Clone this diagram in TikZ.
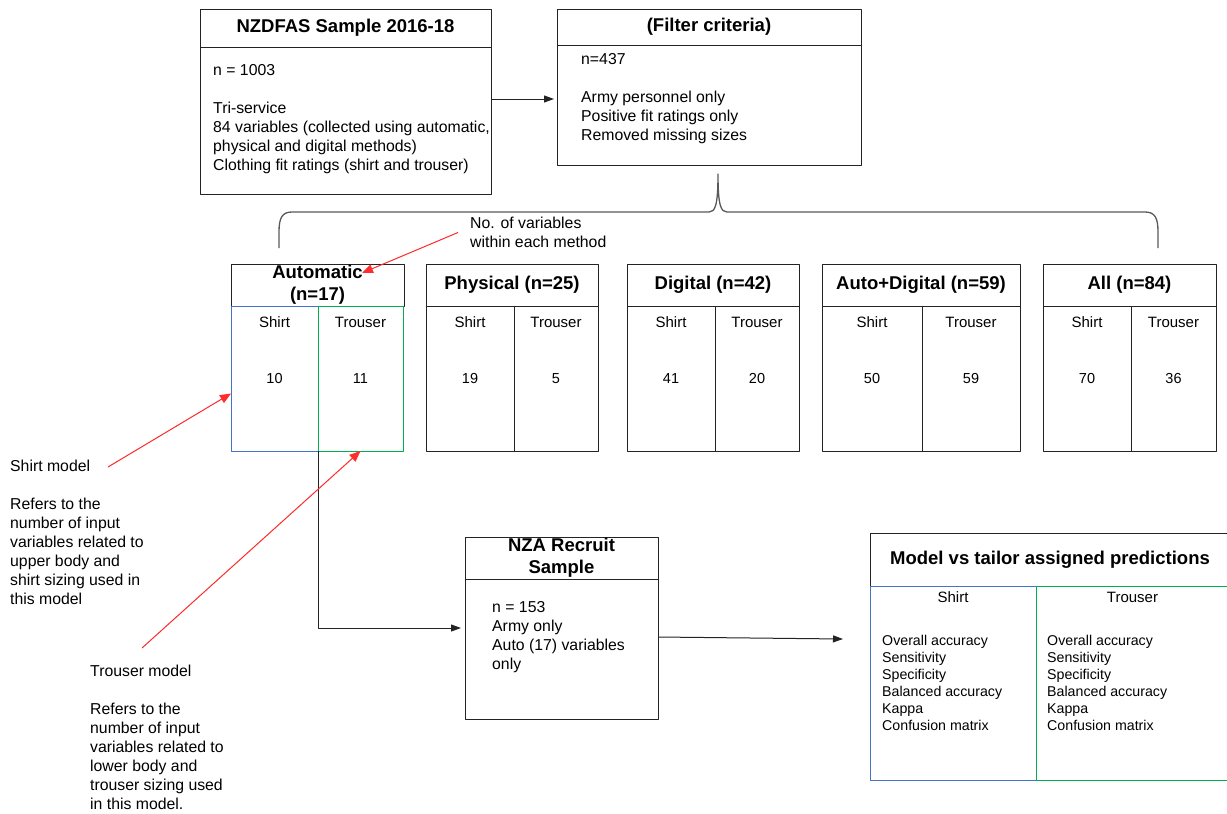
\documentclass[tikz,border=0pt]{standalone}
\usepackage{fontspec}
\setmainfont{Liberation Sans}
\usetikzlibrary{positioning,arrows.meta}
\definecolor{shirtblue}{RGB}{68,114,196}
\definecolor{trousergreen}{RGB}{0,176,80}
\definecolor{notered}{RGB}{255,45,45}
\definecolor{boxline}{RGB}{35,35,35}
\begin{document}
\begin{tikzpicture}[x=1pt,y=-1pt,>={Triangle[length=10pt,width=7pt]},line join=round,
	hdr/.style={draw=boxline,line width=1pt,inner sep=0pt,outer sep=0pt,align=center,font=\fontsize{18.5}{22}\selectfont\bfseries},
	bodybox/.style={draw=boxline,line width=1pt,inner sep=0pt,outer sep=0pt,anchor=north west},
	txt/.style={inner sep=0pt,anchor=north west,align=left,font=\fontsize{15.8}{19}\selectfont},
	cell/.style={draw=boxline,line width=1pt,inner sep=0pt,outer sep=0pt,anchor=north west,minimum height=145pt,font=\fontsize{14.5}{17}\selectfont,
		label={[anchor=center,yshift=-16pt,font=\fontsize{15}{17}\selectfont]north:#1}},
	rescell/.style={draw=boxline,line width=1pt,inner sep=0pt,outer sep=0pt,anchor=north west,minimum height=194pt,
		label={[anchor=center,yshift=-11pt,font=\fontsize{15}{17}\selectfont]north:#1}},
	conn/.style={->,draw=boxline,line width=1pt},
	note/.style={-{Triangle[length=11pt,width=9pt]},draw=notered,fill=notered,line width=1pt}]
	\useasboundingbox (0,0) rectangle (1227,814);
	\clip (0,0) rectangle (1227,814);
	\node[hdr,minimum width=291pt,minimum height=38pt,anchor=north west] (nzH) at (200,9) {NZDFAS Sample 2016-18};
	\node[bodybox,minimum width=291pt,minimum height=147pt] (nzB) at (nzH.south west) {};
	\node[txt,below right=17pt and 13pt of nzB.north west] (nzT) {n = 1003\\[19pt]Tri-service\\84 variables (collected using automatic,\\physical and digital methods)\\Clothing fit ratings (shirt and trouser)};
	\node[hdr,minimum width=304pt,minimum height=36pt,anchor=north west] (fcH) at (557,9) {(Filter criteria)};
	\node[bodybox,minimum width=304pt,minimum height=120pt] (fcB) at (fcH.south west) {};
	\node[txt,below right=8pt and 24pt of fcB.north west] (fcT) {n=437\\[19pt]Army personnel only\\Positive fit ratings only\\Removed missing sizes};
	\coordinate (a1) at (0,99);
	\draw[conn,shorten >=3pt] (nzB.east |- a1) -- (fcB.west |- a1);
	\draw[draw=black!65,line width=1.3pt] (279,248) -- (279,232) .. controls (279,218) and (282,212) .. (292,212) -- (709,212)
		.. controls (715,212) and (718,206) .. (718,174) .. controls (718,206) and (721,212) .. (727,212) -- (1145,212)
		.. controls (1155,212) and (1158,218) .. (1158,232) -- (1158,248);
	\node[txt] (varT) at (470,217) {No. of variables\\within each method};
	\node[hdr,minimum width=173pt,minimum height=42pt,anchor=north west] (autoH) at (231,264) {Automatic\\(n=17)};
	\node[cell=Shirt,draw=shirtblue,minimum width=87pt] (autoS) at (autoH.south west) {10};
	\node[cell=Trouser,draw=trousergreen,minimum width=85pt] (autoT) at (autoS.north east) {11};
	\node[hdr,minimum width=172pt,minimum height=42pt,right=22pt of autoH] (physH) {Physical (n=25)};
	\node[cell=Shirt,minimum width=88pt] (physS) at (physH.south west) {19};
	\node[cell=Trouser,minimum width=84pt] (physT) at (physS.north east) {5};
	\node[hdr,minimum width=172pt,minimum height=42pt,right=29pt of physH] (digH) {Digital (n=42)};
	\node[cell=Shirt,minimum width=88pt] (digS) at (digH.south west) {41};
	\node[cell=Trouser,minimum width=84pt] (digT) at (digS.north east) {20};
	\node[hdr,minimum width=198pt,minimum height=42pt,right=23pt of digH] (adH) {Auto+Digital (n=59)};
	\node[cell=Shirt,minimum width=100pt] (adS) at (adH.south west) {50};
	\node[cell=Trouser,minimum width=98pt] (adT) at (adS.north east) {59};
	\node[hdr,minimum width=173pt,minimum height=42pt,right=23pt of adH] (allH) {All (n=84)};
	\node[cell=Shirt,minimum width=88pt] (allS) at (allH.south west) {70};
	\node[cell=Trouser,minimum width=85pt] (allT) at (allS.north east) {36};
	\node[hdr,minimum width=193pt,minimum height=42pt,anchor=north west] (nzaH) at (465,537) {NZA Recruit\\Sample};
	\node[bodybox,minimum width=193pt,minimum height=140pt] (nzaB) at (nzaH.south west) {};
	\node[txt,below right=22pt and 27pt of nzaB.north west] (nzaT) {n = 153\\Army only\\Auto (17) variables\\only};
	\node[hdr,minimum width=360pt,minimum height=53pt,anchor=north west] (resH) at (870,533) {Model vs tailor assigned predictions};
	\node[rescell=Shirt,draw=shirtblue,minimum width=166pt] (resS) at (resH.south west) {};
	\node[rescell=Trouser,draw=trousergreen,minimum width=193pt] (resT) at (resS.north east) {};
	\node[txt,font=\fontsize{14.2}{17}\selectfont,below right=49pt and 12pt of resS.north west] (resST) {Overall accuracy\\Sensitivity\\Specificity\\Balanced accuracy\\Kappa\\Confusion matrix};
	\node[txt,font=\fontsize{14.2}{17}\selectfont,below right=49pt and 11pt of resT.north west] (resTT) {Overall accuracy\\Sensitivity\\Specificity\\Balanced accuracy\\Kappa\\Confusion matrix};
	\coordinate (a2) at (0,628);
	\draw[conn,shorten >=4pt] (autoS.south east) |- (nzaB.west |- a2);
	\coordinate (a3) at (0,637);
	\coordinate (resIn) at (843,639);
	\draw[conn] (nzaB.east |- a3) -- (resIn);
	\node[txt] (shirtNote) at (10,460) {Shirt model\\[19pt]Refers to the\\number of input\\variables related to\\upper body and\\shirt sizing used in\\this model};
	\node[txt] (trouserNote) at (90,665) {Trouser model\\[19pt]Refers to the\\number of input\\variables related to\\lower body and\\trouser sizing used\\in this model.};
	\coordinate (varTo) at (362,273);
	\draw[note] ([xshift=-12pt]varT.west) -- (varTo);
	\coordinate (shirtFrom) at (108,467);
	\draw[note] (shirtFrom) -- ([yshift=-15pt]autoS.west);
	\coordinate (trouserFrom) at (142,648);
	\draw[note] (trouserFrom) -- (autoT.south);
\end{tikzpicture}
\end{document}
